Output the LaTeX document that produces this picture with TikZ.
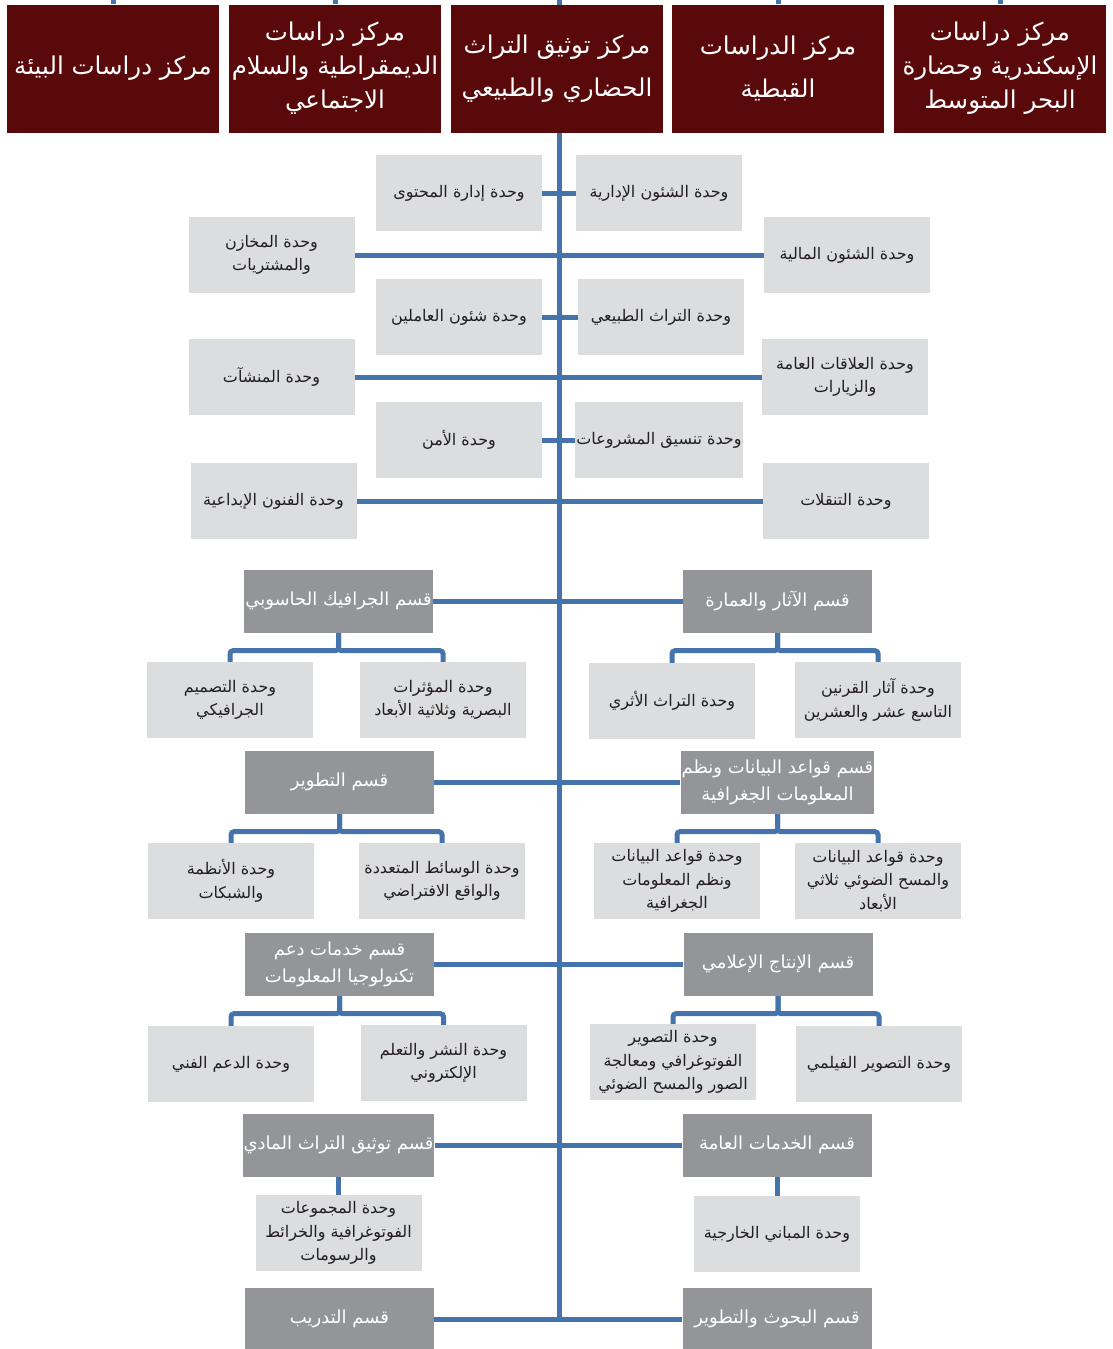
\documentclass[tikz,border=0pt]{standalone}
\usepackage{fontspec}
\newfontfamily\arabicfont[Script=Arabic]{DejaVu Sans}
\TeXXeTstate=1
\usetikzlibrary{backgrounds}
\definecolor{hdrred}{HTML}{5A090B}
\definecolor{deptgray}{HTML}{939598}
\definecolor{unitgray}{HTML}{DCDDDE}
\definecolor{linkblue}{HTML}{4573AC}
\definecolor{unittext}{HTML}{231F20}
\newcommand{\arln}[1]{\beginR #1\endR}
\begin{document}
\begin{tikzpicture}[x=1pt,y=-1pt,
  hdr/.style={fill=hdrred,text=white,minimum width=212pt,minimum height=128pt,inner sep=1pt,align=center,font=\arabicfont\fontsize{24.5}{34}\selectfont},
  hdrtwo/.style={hdr,font=\arabicfont\fontsize{24.5}{43}\selectfont},
  dept/.style={fill=deptgray,text=white,minimum width=189pt,minimum height=63pt,inner sep=1pt,align=center,font=\arabicfont\fontsize{18}{27}\selectfont},
  unit/.style={fill=unitgray,text=unittext,minimum width=166pt,minimum height=76pt,inner sep=1pt,align=center,font=\arabicfont\fontsize{16}{23.5}\selectfont},
  conn/.style={draw=linkblue,line width=5pt},
  tree/.style={conn,rounded corners=3pt}]
\useasboundingbox (0,0) rectangle (1112,1349);

% headers
\node[hdr] (h1) at (113,68.5) {\arln{مركز دراسات البيئة}};
\node[hdr] (h2) at (335,68.5) {\arln{مركز دراسات}\\\arln{الديمقراطية والسلام}\\\arln{الاجتماعي}};
\node[hdrtwo] (h3) at (557,68.5) {\arln{مركز توثيق التراث}\\\arln{الحضاري والطبيعي}};
\node[hdrtwo] (h4) at (778,68.5) {\arln{مركز الدراسات}\\\arln{القبطية}};
\node[hdr] (h5) at (1000,68.5) {\arln{مركز دراسات}\\\arln{الإسكندرية وحضارة}\\\arln{البحر المتوسط}};

% units
\node[unit] (uL1) at (459,193) {\arln{وحدة إدارة المحتوى}};
\node[unit] (uR1) at (659,193) {\arln{وحدة الشئون الإدارية}};
\node[unit] (uL2) at (271.5,255) {\arln{وحدة المخازن}\\\arln{والمشتريات}};
\node[unit] (uR2) at (847,255) {\arln{وحدة الشئون المالية}};
\node[unit] (uL3) at (459,317) {\arln{وحدة شئون العاملين}};
\node[unit] (uR3) at (661,317) {\arln{وحدة التراث الطبيعي}};
\node[unit] (uL4) at (271.5,377) {\arln{وحدة المنشآت}};
\node[unit] (uR4) at (845,377) {\arln{وحدة العلاقات العامة}\\\arln{والزيارات}};
\node[unit] (uL5) at (459,440) {\arln{وحدة الأمن}};
\node[unit] (uR5) at (659,440) {\arln{وحدة تنسيق المشروعات}};
\node[unit] (uL6) at (273.5,501) {\arln{وحدة الفنون الإبداعية}};
\node[unit] (uR6) at (846,501) {\arln{وحدة التنقلات}};

% departments row A
\node[dept] (dLA) at (338.5,601) {\arln{قسم الجرافيك الحاسوبي}};
\node[dept] (dRA) at (777.5,601) {\arln{قسم الآثار والعمارة}};
\node[unit] (cA1) at (230,700) {\arln{وحدة التصميم}\\\arln{الجرافيكي}};
\node[unit] (cA2) at (443,700) {\arln{وحدة المؤثرات}\\\arln{البصرية وثلاثية الأبعاد}};
\node[unit] (cA3) at (672,701) {\arln{وحدة التراث الأثري}};
\node[unit] (cA4) at (878,700) {\arln{وحدة آثار القرنين}\\\arln{التاسع عشر والعشرين}};

% row B
\node[dept] (dLB) at (339.5,782) {\arln{قسم التطوير}};
\node[dept] (dRB) at (777.5,782) {\arln{قسم قواعد البيانات ونظم}\\\arln{المعلومات الجغرافية}};
\node[unit] (cB1) at (231,881) {\arln{وحدة الأنظمة}\\\arln{والشبكات}};
\node[unit] (cB2) at (442,881) {\arln{وحدة الوسائط المتعددة}\\\arln{والواقع الافتراضي}};
\node[unit] (cB3) at (677,881) {\arln{وحدة قواعد البيانات}\\\arln{ونظم المعلومات}\\\arln{الجغرافية}};
\node[unit] (cB4) at (878,881) {\arln{وحدة قواعد البيانات}\\\arln{والمسح الضوئي ثلاثي}\\\arln{الأبعاد}};

% row C
\node[dept] (dLC) at (339.5,964) {\arln{قسم خدمات دعم}\\\arln{تكنولوجيا المعلومات}};
\node[dept] (dRC) at (778,964) {\arln{قسم الإنتاج الإعلامي}};
\node[unit] (cC1) at (231,1064) {\arln{وحدة الدعم الفني}};
\node[unit] (cC2) at (443.5,1063) {\arln{وحدة النشر والتعلم}\\\arln{الإلكتروني}};
\node[unit] (cC3) at (673,1062) {\arln{وحدة التصوير}\\\arln{الفوتوغرافي ومعالجة}\\\arln{الصور والمسح الضوئي}};
\node[unit] (cC4) at (879,1064) {\arln{وحدة التصوير الفيلمي}};

% row D
\node[dept] (dLD) at (338.5,1145) {\arln{قسم توثيق التراث المادي}};
\node[dept] (dRD) at (777,1145) {\arln{قسم الخدمات العامة}};
\node[unit] (cD1) at (338.5,1233) {\arln{وحدة المجموعات}\\\arln{الفوتوغرافية والخرائط}\\\arln{والرسومات}};
\node[unit] (cD2) at (777,1234) {\arln{وحدة المباني الخارجية}};

% row E
\node[dept] (dLE) at (339.5,1319) {\arln{قسم التدريب}};
\node[dept] (dRE) at (777,1319) {\arln{قسم البحوث والتطوير}};

\coordinate (mtop) at (559,0);
\coordinate (mbot) at (559,1319);

\begin{scope}[on background layer]
  \draw[conn] (mtop) -- (mbot);
  \foreach \h in {h1,h2,h4,h5} \draw[conn] (\h.north) -- (\h.north |- mtop);
  \foreach \r in {1,...,6} \draw[conn] (uL\r.east) -- (uR\r.west);
  \foreach \r in {A,B,C,D,E} \draw[conn] (dL\r.east) -- (dR\r.west);
  \draw[tree] (dLA.south) -- ++(0,18) -| (cA1.north);
  \draw[tree] (dLA.south) -- ++(0,18) -| (cA2.north);
  \draw[tree] (dRA.south) -- ++(0,18) -| (cA3.north);
  \draw[tree] (dRA.south) -- ++(0,18) -| (cA4.north);
  \draw[tree] (dLB.south) -- ++(0,18) -| (cB1.north);
  \draw[tree] (dLB.south) -- ++(0,18) -| (cB2.north);
  \draw[tree] (dRB.south) -- ++(0,18) -| (cB3.north);
  \draw[tree] (dRB.south) -- ++(0,18) -| (cB4.north);
  \draw[tree] (dLC.south) -- ++(0,18) -| (cC1.north);
  \draw[tree] (dLC.south) -- ++(0,18) -| (cC2.north);
  \draw[tree] (dRC.south) -- ++(0,18) -| (cC3.north);
  \draw[tree] (dRC.south) -- ++(0,18) -| (cC4.north);
  \draw[conn] (dLD.south) -- (cD1.north);
  \draw[conn] (dRD.south) -- (cD2.north);
\end{scope}
\end{tikzpicture}
\end{document}
